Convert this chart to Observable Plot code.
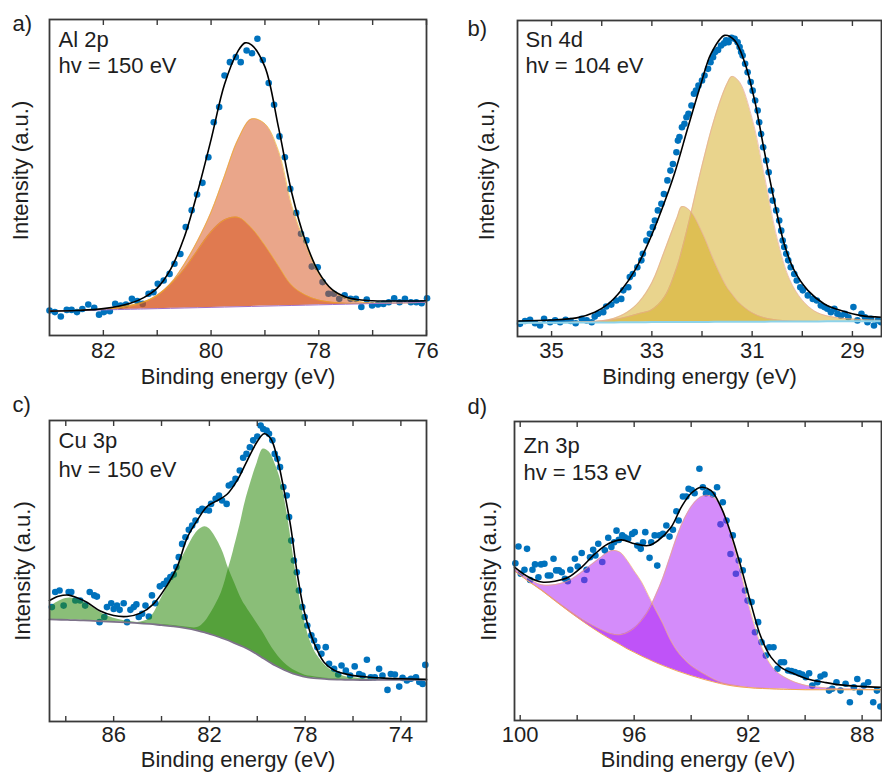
<!DOCTYPE html>
<html><head><meta charset="utf-8">
<script src="https://cdn.jsdelivr.net/npm/d3@7"></script>
<script src="https://cdn.jsdelivr.net/npm/@observablehq/plot@0.6"></script>
<style>
body{margin:0;background:#fff;}
#wrap{position:relative;width:882px;height:774px;overflow:hidden;font-family:"Liberation Sans",Arial,sans-serif;}
.panel{position:absolute;}
</style></head><body><div id="wrap"></div>
<script>
// ---------- Panel a: Al 2p ----------
const ptsA = [[83.00,7.9],[82.90,7.4],[82.79,6.0],[82.68,8.1],[82.59,8.1],[82.49,7.4],[82.39,8.4],[82.28,9.8],[82.17,8.8],[82.08,6.6],[81.99,7.4],[81.88,7.7],[81.78,10.0],[81.68,9.5],[81.58,9.8],[81.47,11.6],[81.37,10.9],[81.27,10.0],[81.16,13.2],[81.07,13.7],[80.99,16.4],[80.88,17.4],[80.77,19.5],[80.68,22.7],[80.57,25.8],[80.47,34.3],[80.36,39.6],[80.26,44.6],[80.16,48.3],[80.05,56.4],[79.95,67.5],[79.85,72.3],[79.75,82.3],[79.65,86.5],[79.54,88.1],[79.45,86.5],[79.34,90.2],[79.24,89.3],[79.14,93.9],[79.04,87.2],[78.93,79.9],[78.83,73.0],[78.73,63.0],[78.63,56.4],[78.53,46.4],[78.42,38.8],[78.33,32.2],[78.23,30.1],[78.13,21.8],[78.02,21.6],[77.93,16.9],[77.82,13.2],[77.72,13.2],[77.62,11.6],[77.52,12.7],[77.41,11.6],[77.31,11.6],[77.21,9.0],[77.11,11.4],[77.01,9.5],[76.90,9.8],[76.80,10.0],[76.70,10.5],[76.60,11.8],[76.50,10.5],[76.40,11.6],[76.29,10.5],[76.19,10.5],[76.09,10.2],[75.99,11.8]];
const fitA = [[83,7.7],[82.5,7.9],[82,8.5],[81.5,10.2],[81.25,12.0],[81,15.0],[80.75,21.0],[80.5,31.0],[80.25,45.5],[80,62.0],[79.75,79.5],[79.5,90.0],[79.37,92.6],[79.25,92.0],[79,85.0],[78.75,66.0],[78.5,45.0],[78.25,30.0],[78,20.0],[77.75,14.5],[77.5,12.2],[77.25,11.3],[77,11.0],[76.5,10.9],[76,11.0]];
const gridA = [83,82.5,82,81.5,81.25,81,80.75,80.5,80.25,80,79.75,79.5,79.25,79,78.75,78.5,78.25,78,77.75,77.5,77.25,77,76.5,76];
const bgA   = [7.7,7.9,8.1,8.3,8.4,8.5,8.6,8.7,8.8,8.9,9.0,9.1,9.2,9.3,9.4,9.5,9.6,9.7,9.8,9.9,10.0,10.1,10.3,10.5];
const c1A   = [7.7,7.95,8.3,9.3,10.5,12.8,16.3,21.0,27.0,32.8,36.6,37.4,34.0,28.5,22.0,15.8,12.8,11.2,10.5,10.2,10.1,10.15,10.3,10.5];
const c2A   = [7.7,7.95,8.4,9.6,10.7,12.6,16.5,22.5,30.0,39.0,50.5,62.0,68.5,67.0,58.5,41.0,29.0,19.5,14.3,11.8,10.7,10.3,10.3,10.5];

// ---------- Panel b: Sn 4d ----------
const ptsB = [[35.63,4.0],[35.53,4.9],[35.43,5.3],[35.33,4.2],[35.23,3.5],[35.15,5.6],[35.03,4.5],[34.93,5.1],[34.83,4.5],[34.72,5.3],[34.62,4.9],[34.52,4.2],[34.40,5.6],[34.30,5.1],[34.20,4.5],[34.14,6.3],[34.07,7.2],[33.97,7.7],[33.91,9.5],[33.81,10.1],[33.71,11.4],[33.61,11.9],[33.57,14.6],[33.47,15.6],[33.44,18.8],[33.38,19.8],[33.29,21.9],[33.21,24.1],[33.18,26.2],[33.11,30.4],[33.04,32.5],[32.98,34.6],[32.94,36.7],[32.88,39.9],[32.81,42.0],[32.76,45.1],[32.69,49.4],[32.63,52.5],[32.58,54.6],[32.51,58.3],[32.48,62.0],[32.45,63.1],[32.40,66.2],[32.35,67.3],[32.31,69.4],[32.27,70.5],[32.21,73.1],[32.16,76.8],[32.12,77.8],[32.07,79.4],[32.00,81.0],[31.95,82.6],[31.88,84.7],[31.83,86.8],[31.78,88.4],[31.74,90.0],[31.68,90.7],[31.62,92.1],[31.56,92.8],[31.52,93.7],[31.47,93.1],[31.41,94.5],[31.35,94.2],[31.29,93.1],[31.25,91.6],[31.22,90.0],[31.19,88.9],[31.14,86.3],[31.09,83.6],[31.03,80.5],[30.99,77.8],[30.94,74.7],[30.89,71.5],[30.86,67.8],[30.82,64.1],[30.78,59.9],[30.72,55.7],[30.67,52.0],[30.62,46.2],[30.59,43.0],[30.52,39.9],[30.46,36.7],[30.42,33.5],[30.39,30.4],[30.36,28.3],[30.32,26.2],[30.28,24.1],[30.23,21.9],[30.16,19.8],[30.11,17.7],[30.04,15.6],[29.99,14.6],[29.89,13.0],[29.79,11.9],[29.71,11.4],[29.63,9.8],[29.56,9.3],[29.50,8.8],[29.43,7.7],[29.36,8.8],[29.30,7.2],[29.23,6.6],[29.15,7.2],[29.08,6.1],[28.98,9.3],[28.90,5.1],[28.82,7.2],[28.75,6.1],[28.70,4.5],[28.63,5.6],[28.57,3.5],[28.49,5.1],[28.43,4.5]];
const fitB = [[35.68,4.9],[35.0,5.2],[34.5,5.9],[34.14,7.7],[33.87,10.3],[33.61,14.6],[33.34,20.9],[33.08,29.3],[32.81,39.9],[32.55,51.5],[32.28,66.2],[32.02,80.0],[31.82,89.5],[31.55,95.3],[31.35,93.7],[31.15,86.8],[30.95,74.7],[30.76,58.9],[30.56,43.0],[30.36,29.3],[30.16,20.9],[29.89,14.6],[29.56,10.3],[29.23,8.2],[28.83,6.6],[28.42,6.1]];
const gridB = [35.68,35,34.5,34,33.75,33.5,33.25,33,32.75,32.5,32.4,32.25,32,31.75,31.5,31.4,31.25,31,30.75,30.5,30.25,30,29.75,29.5,29,28.42];
const bgB   = [4.3,4.35,4.4,4.45,4.45,4.5,4.5,4.55,4.55,4.6,4.6,4.6,4.6,4.65,4.65,4.65,4.7,4.7,4.7,4.75,4.75,4.75,4.75,4.8,4.8,4.8];
const c1B   = [4.3,4.4,4.6,5.0,5.8,7.6,11.0,17.0,27.0,37.5,41.1,40.0,33.0,23.5,15.5,13.4,10.5,7.5,5.9,5.2,4.9,4.8,4.75,4.8,4.8,4.8];
const c2B   = [4.3,4.4,4.5,4.9,5.4,6.2,7.3,8.5,12.5,22.0,27.5,37.0,54.0,69.0,80.0,82.3,80.5,69.0,50.5,31.0,18.0,11.5,8.0,6.5,5.5,5.1];

// ---------- Panel c: Cu 3p ----------
const ptsC = [[88.58,38.0],[88.44,43.0],[88.26,43.5],[88.09,38.5],[87.88,43.0],[87.77,43.0],[87.60,40.2],[87.40,40.2],[87.19,38.5],[87.00,43.0],[86.81,41.9],[86.70,41.5],[86.59,33.0],[86.39,34.7],[86.28,38.0],[86.10,39.3],[86.00,37.4],[85.86,38.5],[85.75,37.1],[85.58,39.3],[85.44,33.0],[85.30,37.1],[85.16,38.0],[85.05,38.9],[84.95,34.7],[84.81,35.8],[84.67,38.5],[84.53,34.9],[84.40,41.9],[84.26,39.3],[84.07,44.9],[83.91,45.7],[83.77,46.8],[83.63,48.0],[83.49,48.8],[83.38,51.3],[83.28,54.6],[83.14,59.0],[83.00,61.2],[82.86,63.7],[82.72,65.1],[82.58,66.8],[82.44,69.9],[82.30,70.7],[82.16,70.3],[82.02,70.1],[81.93,72.3],[81.74,74.0],[81.60,75.1],[81.47,73.4],[81.28,72.3],[81.19,78.4],[81.05,79.0],[80.91,80.6],[80.73,83.4],[80.59,87.6],[80.45,88.9],[80.31,91.1],[80.17,93.4],[80.00,94.7],[79.86,98.3],[79.75,97.2],[79.61,96.7],[79.51,95.6],[79.37,93.4],[79.27,88.9],[79.16,87.3],[79.05,84.5],[78.91,77.9],[78.77,75.1],[78.67,67.9],[78.58,60.1],[78.47,53.5],[78.35,49.6],[78.26,43.5],[78.12,38.0],[78.02,34.7],[77.91,31.9],[77.74,28.6],[77.63,26.9],[77.49,24.7],[77.32,22.5],[77.14,24.7],[77.00,19.2],[76.79,17.5],[76.62,15.6],[76.48,18.6],[76.30,16.9],[76.12,15.3],[75.93,18.3],[75.74,15.8],[75.60,15.3],[75.42,20.5],[75.26,14.7],[75.09,14.7],[74.91,17.5],[74.77,15.3],[74.56,10.5],[74.42,15.8],[74.25,15.6],[74.07,11.6],[73.93,14.5],[73.75,13.6],[73.58,14.2],[73.37,14.7],[73.23,13.1],[73.09,12.5],[72.98,18.8]];
const fitC = [[88.68,40.2],[88.3,41.6],[87.88,42.0],[87.5,41.0],[87.12,39.6],[86.56,36.7],[86.0,35.2],[85.44,34.9],[84.88,36.0],[84.33,39.1],[83.77,45.2],[83.35,51.3],[82.93,61.0],[82.51,66.8],[82.09,71.5],[81.67,73.4],[81.26,75.5],[80.84,80.1],[80.42,86.7],[80.0,93.0],[79.72,95.6],[79.44,94.0],[79.16,87.3],[78.88,76.7],[78.6,64.6],[78.33,49.1],[78.05,36.9],[77.77,29.1],[77.49,23.6],[77.21,19.7],[76.79,17.0],[76.09,15.4],[75.4,14.8],[74.7,14.4],[74.0,14.2],[72.93,14.0]];
const gridC = [88.68,88.2,87.8,87.4,87,86.5,86,85.5,85,84.5,84,83.5,83,82.5,82.2,82,81.5,81.2,81,80.7,80.5,80,79.75,79.5,79.25,79,78.75,78.5,78.25,78,77.75,77.5,77,76.5,76,75,72.93];
const bgC   = [33.9,33.8,33.7,33.6,33.5,33.3,33.1,32.9,32.7,32.4,32.0,31.6,31.0,30.2,29.6,29.1,27.8,26.9,26.2,25.2,24.5,22.3,21.0,19.8,18.6,17.6,16.7,15.9,15.3,14.8,14.5,14.3,14.0,13.9,13.8,13.8,13.8];
const satC  = [38.0,40.3,41.0,40.2,38.5,36.0,34.3,33.4,32.9,32.5,32.0,31.6,31.0,30.2,29.6,29.1,27.8,26.9,26.2,25.2,24.5,22.3,21.0,19.8,18.6,17.6,16.7,15.9,15.3,14.8,14.5,14.3,14.0,13.9,13.8,13.8,13.8];
const c1C   = [33.9,33.8,33.7,33.6,33.5,33.3,33.1,32.9,32.9,34.2,41.0,48.8,56.5,63.2,64.7,64.0,57.5,50.8,47.0,41.4,38.5,32.5,29.5,26.0,23.0,20.5,18.6,17.2,16.2,15.4,15.0,14.7,14.3,14.0,13.9,13.8,13.8];
const c2C   = [33.9,33.8,33.7,33.6,33.5,33.3,33.1,32.9,32.7,32.5,32.2,31.9,31.4,31.2,33.0,35.2,42.8,50.8,56.5,66.0,73.0,86.0,90.5,89.5,85.5,79.5,69.0,55.5,42.5,32.5,26.0,22.0,17.5,15.4,14.5,14.0,13.8];

// ---------- Panel d: Zn 3p ----------
const ptsD = [[100.17,52.6],[100.06,58.2],[99.98,49.1],[99.85,50.4],[99.76,57.4],[99.65,47.0],[99.57,50.4],[99.48,52.2],[99.36,47.9],[99.27,52.2],[99.15,52.4],[99.03,48.5],[98.94,48.5],[98.83,54.1],[98.74,50.2],[98.64,50.2],[98.54,49.6],[98.43,47.4],[98.33,46.6],[98.24,50.4],[98.08,54.1],[97.98,51.5],[97.84,56.0],[97.75,47.0],[97.67,50.4],[97.55,54.6],[97.44,57.1],[97.36,55.2],[97.26,59.1],[97.12,53.0],[97.03,56.9],[96.91,61.1],[96.80,58.0],[96.70,59.6],[96.62,63.5],[96.54,60.4],[96.42,61.9],[96.33,61.3],[96.21,60.8],[96.07,62.4],[95.98,63.0],[95.89,58.5],[95.77,57.4],[95.69,59.6],[95.61,63.0],[95.46,54.4],[95.40,59.6],[95.28,61.9],[95.19,51.8],[95.11,61.9],[94.99,62.4],[94.87,65.2],[94.76,61.5],[94.64,63.8],[94.52,70.0],[94.44,66.9],[94.29,74.9],[94.17,74.9],[94.09,77.5],[93.98,77.1],[93.88,76.0],[93.71,84.2],[93.59,78.0],[93.48,76.0],[93.42,76.4],[93.24,75.6],[93.09,78.0],[92.97,65.6],[92.89,73.0],[92.76,66.9],[92.62,55.7],[92.54,61.9],[92.43,49.1],[92.33,53.5],[92.19,50.2],[92.11,43.5],[92.02,40.1],[91.88,39.6],[91.76,29.5],[91.65,32.9],[91.53,26.2],[91.38,21.7],[91.26,24.5],[91.11,24.5],[90.97,17.3],[90.85,19.5],[90.74,19.5],[90.60,16.7],[90.48,16.5],[90.36,16.2],[90.21,15.8],[90.10,15.4],[89.98,14.5],[89.86,15.8],[89.75,11.7],[89.57,12.8],[89.46,14.7],[89.32,15.4],[89.16,10.0],[89.05,10.6],[88.90,12.8],[88.76,10.0],[88.58,12.3],[88.43,6.1],[88.29,11.1],[88.17,13.9],[88.08,9.5],[87.94,11.7],[87.79,12.8],[87.61,6.1],[87.48,10.0],[87.36,4.7]];
const fitD = [[100.2,51.3],[99.71,48.0],[99.24,46.3],[98.78,46.6],[98.31,47.9],[97.84,51.3],[97.38,55.7],[96.91,59.1],[96.45,60.4],[95.98,59.1],[95.51,58.5],[95.16,60.2],[94.7,64.7],[94.35,71.3],[94.0,76.0],[93.65,78.0],[93.3,76.9],[92.95,71.3],[92.6,62.4],[92.25,51.3],[91.9,39.0],[91.55,27.9],[91.2,21.2],[90.85,17.8],[90.39,15.6],[89.92,13.9],[89.34,12.8],[88.76,11.9],[88.06,11.4],[87.32,11.1]];
const gridD = [100.2,99.75,99.25,98.75,98.25,97.75,97.25,96.8,96.5,96.25,96,95.75,95.5,95.25,95,94.75,94.5,94.25,94,93.75,93.5,93.25,93,92.75,92.5,92.25,92,91.75,91.5,91.25,91,90.5,90,89.5,89,88.5,87.32];
const bgD   = [50.0,46.8,43.5,39.8,36.2,32.8,29.6,27.0,25.4,24.0,22.8,21.6,20.5,19.4,18.4,17.5,16.6,15.8,15.0,14.3,13.6,13.0,12.4,11.9,11.5,11.2,11.0,10.8,10.7,10.6,10.5,10.4,10.3,10.3,10.3,10.3,10.3];
const c1D   = [50.8,47.7,45.4,45.5,47.0,50.3,54.0,56.8,56.3,53.6,50.0,46.5,41.8,37.0,32.5,27.3,23.3,20.5,18.3,16.7,15.3,14.0,12.9,12.2,11.8,11.4,11.1,10.9,10.8,10.7,10.6,10.4,10.3,10.3,10.3,10.3,10.3];
const c2D   = [50.1,46.9,43.7,40.1,36.6,33.4,30.8,29.0,28.7,29.4,30.9,33.4,36.8,41.8,47.5,54.5,61.5,67.3,71.5,74.2,75.3,74.8,72.5,66.5,58.5,49.5,39.5,31.0,24.0,19.2,16.3,13.4,11.8,11.1,10.7,10.5,10.3];

// ---------- labels / ticks ----------
const panelLabels = ["a)", "b)", "c)", "d)"];
const coreLevels = ["Al 2p", "Sn 4d", "Cu 3p", "Zn 3p"];
const photonEnergies = ["hv = 150 eV", "hv = 104 eV", "hv = 150 eV", "hv = 153 eV"];
const xTitle = "Binding energy (eV)";
const yTitle = "Intensity (a.u.)";
const majorA = [82,80,78,76], allA = [82,81,80,79,78,77,76];
const majorB = [35,33,31,29], allB = [35,34,33,32,31,30,29];
const majorC = [86,82,78,74], allC = [88,86,84,82,80,78,76,74];
const majorD = [100,96,92,88], allD = [100,98,96,94,92,90,88];

const FONT = "Liberation Sans, Arial, Helvetica, sans-serif";
const TXT = "#1e1e1e";
const FS = 22;

function makePanel(c, k) {
  const comps = c.comps.map(cv => c.grid.map((e, i) => ({e, lo: c.bg[i], hi: cv[i]})));
  const bgT = c.grid.map((e, i) => ({e, v: c.bg[i]}));
  const curve = "catmull-rom";
  const marks = [
    Plot.dot(c.pts, {x: d => d[0], y: d => d[1], r: 3.3, fill: "#0072BD"}),
    ...comps.map(t => Plot.areaY(t, {x: "e", y1: "lo", y2: "hi", fill: c.fill, fillOpacity: c.op, curve})),
    ...(c.edge ? comps.map(t => Plot.line(t, {x: "e", y: "hi", stroke: c.edge, strokeWidth: 0.8, strokeOpacity: 0.8, curve})) : []),
    Plot.line(bgT, {x: "e", y: "v", stroke: c.bgColor, strokeWidth: c.bgWidth, curve}),
    Plot.line(c.fit, {x: d => d[0], y: d => d[1], stroke: "#000", strokeWidth: 1.6, curve}),
    Plot.frame({stroke: "#3a3a3a", strokeWidth: 1.8}),
    Plot.axisX(c.all, {anchor: "bottom", tickSize: 5, dy: -5, tickFormat: () => "", stroke: "#3a3a3a", strokeWidth: 1.4, label: null}),
    Plot.axisX(c.all, {anchor: "top", tickSize: 5, dy: 5, tickFormat: () => "", stroke: "#3a3a3a", strokeWidth: 1.4, label: null}),
    Plot.axisX(c.major, {anchor: "bottom", tickSize: 0, tickPadding: c.tp, fontSize: FS, fill: TXT, label: null, tickFormat: d => String(d)}),
    Plot.text([panelLabels[k]], {text: d => d, frameAnchor: "top-left", textAnchor: "start", lineAnchor: "middle", dx: c.lab[0], dy: c.lab[1], fontSize: FS, fill: TXT}),
    Plot.text([coreLevels[k]], {text: d => d, frameAnchor: "top-left", textAnchor: "start", lineAnchor: "middle", dx: c.ann[0], dy: c.ann[1], fontSize: FS, fill: TXT}),
    Plot.text([photonEnergies[k]], {text: d => d, frameAnchor: "top-left", textAnchor: "start", lineAnchor: "middle", dx: c.ann[0], dy: c.ann[2], fontSize: FS, fill: TXT}),
    Plot.text([yTitle], {text: d => d, frameAnchor: "left", rotate: -90, textAnchor: "middle", lineAnchor: "middle", dx: c.yt[0], dy: c.yt[1], fontSize: FS, fill: TXT}),
    Plot.text([xTitle], {text: d => d, frameAnchor: "bottom", textAnchor: "middle", lineAnchor: "middle", dy: c.xt, fontSize: FS, fill: TXT})
  ];
  const svg = Plot.plot({
    width: 441, height: 387,
    marginLeft: c.m[0], marginRight: c.m[1], marginTop: c.m[2], marginBottom: c.m[3],
    x: {domain: c.domain},
    y: {domain: [0, 100], axis: null},
    style: {fontFamily: FONT, fontSize: FS + "px", color: TXT, background: "transparent", overflow: "visible"},
    marks
  });
  const div = document.createElement("div");
  div.className = "panel";
  div.style.left = c.px + "px";
  div.style.top = c.py + "px";
  div.appendChild(svg);
  document.getElementById("wrap").appendChild(div);
}

const panels = [
  {px: 0, py: 0, m: [49, 15, 19, 52], domain: [83, 76], major: majorA, all: allA, tp: 7,
   pts: ptsA, fit: fitA, grid: gridA, bg: bgA, comps: [c1A, c2A],
   fill: "#D54D15", op: 0.5, edge: "#EDB120", bgColor: "#A070C8", bgWidth: 1,
   lab: [-37, 4], ann: [9, 20, 46], yt: [-29, -7], xt: 41},
  {px: 441, py: 0, m: [76, 1, 20, 51], domain: [35.68, 28.42], major: majorB, all: allB, tp: 6,
   pts: ptsB, fit: fitB, grid: gridB, bg: bgB, comps: [c1B, c2B],
   fill: "#D4A91C", op: 0.5, edge: "#E8A49C", bgColor: "#8DD3EA", bgWidth: 2,
   lab: [-50, 8], ann: [8, 19, 45], yt: [-31, -8], xt: 40},
  {px: 0, py: 387, m: [49, 15, 33, 53], domain: [88.68, 72.93], major: majorC, all: allC, tp: 5,
   pts: ptsC, fit: fitC, grid: gridC, bg: bgC, comps: [satC, c1C, c2C],
   fill: "#2A890A", op: 0.55, edge: null, bgColor: "#7D7289", bgWidth: 1.8,
   lab: [-37, -16], ann: [9, 20, 49], yt: [-27, 0], xt: 38},
  {px: 441, py: 387, m: [73, 1, 34, 54], domain: [100.2, 87.32], major: majorD, all: allD, tp: 6,
   pts: ptsD, fit: fitD, grid: gridD, bg: bgD, comps: [c1D, c2D],
   fill: "#A919F5", op: 0.5, edge: "#F2B366", bgColor: "#F2A65A", bgWidth: 1,
   lab: [-47, -15], ann: [9, 24, 51], yt: [-26, 0], xt: 39}
];
panels.forEach((c, k) => makePanel(c, k));
</script>
</body></html>
